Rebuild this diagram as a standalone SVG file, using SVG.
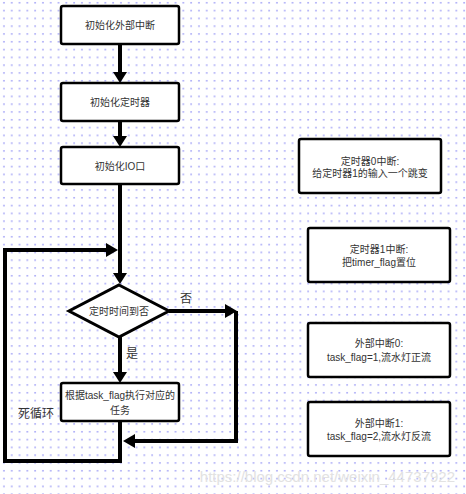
<svg xmlns="http://www.w3.org/2000/svg" width="466" height="494" viewBox="0 0 466 494">
<defs>
<pattern id="grid" x="0" y="0" width="7.8" height="7.8" patternUnits="userSpaceOnUse">
<rect x="3.2" y="2" width="1.5" height="1.5" fill="#9a9af5"/>
</pattern>
<style>
.box{fill:#fff;stroke:#000;stroke-width:2.5}
.t{font-family:"Liberation Sans","Noto Sans CJK SC",sans-serif;font-size:10px;fill:#333;text-anchor:middle}
.lbl{font-family:"Liberation Sans","Noto Sans CJK SC",sans-serif;font-size:12px;fill:#333;text-anchor:middle}
.ln{fill:none;stroke:#000;stroke-width:4}
.ah{fill:#000}
</style>
</defs>
<rect width="466" height="494" fill="#fff"/>
<rect width="466" height="494" fill="url(#grid)"/>
<g id="connectors">
<path class="ln" d="M120 44V73"/>
<polygon class="ah" points="113,72 127,72 120,83"/>
<path class="ln" d="M120 121V137"/>
<polygon class="ah" points="113,136 127,136 120,147"/>
<path class="ln" d="M120 184V274"/>
<polygon class="ah" points="113,273 127,273 120,284"/>
<path class="ln" d="M120 421V461H5V250H107"/>
<polygon class="ah" points="106,243 106,257 118,250"/>
<path class="ln" d="M120 337V373"/>
<polygon class="ah" points="113,372 127,372 120,383"/>
<path class="ln" d="M169 311H226"/>
<polygon class="ah" points="225,304 225,318 237,311"/>
<path class="ln" d="M236 311V441H134"/>
<polygon class="ah" points="135,434 135,448 123,441"/>
<text class="lbl" x="186" y="303">否</text>
<text class="lbl" x="132" y="358">是</text>
</g>
<g id="n1">
<rect class="box" x="61" y="6" width="118" height="38" rx="2"/>
<text class="t" x="120" y="28.5">初始化外部中断</text>
</g>
<g id="n2">
<rect class="box" x="61" y="83" width="118" height="38" rx="2"/>
<text class="t" x="120" y="105.5">初始化定时器</text>
</g>
<g id="n3">
<rect class="box" x="61" y="147" width="118" height="37" rx="2"/>
<text class="t" x="120" y="169.5">初始化IO口</text>
</g>
<g id="n4">
<polygon points="119,285 169,311 119,337 69,311" fill="#fff" stroke="#000" stroke-width="3"/>
<text class="t" x="119" y="314.5">定时时间到否</text>
</g>
<g id="n5">
<rect class="box" x="61" y="383" width="118" height="38" rx="2"/>
<text class="t" x="120" y="398.5">根据task_flag执行对应的</text>
<text class="t" x="120" y="413.5">任务</text>
</g>
<g id="loop-label">
<text class="lbl" x="36" y="418">死循环</text>
</g>
<g id="r1">
<rect class="box" x="299" y="139" width="142" height="54" rx="2"/>
<text class="t" x="370" y="164.5">定时器0中断:</text>
<text class="t" x="370" y="176.5">给定时器1的输入一个跳变</text>
</g>
<g id="r2">
<rect class="box" x="308" y="228" width="142" height="54" rx="2"/>
<text class="t" x="379" y="252.5">定时器1中断:</text>
<text class="t" x="379" y="265.5">把timer_flag置位</text>
</g>
<g id="r3">
<rect class="box" x="308" y="323" width="142" height="54" rx="2"/>
<text class="t" x="379" y="346.5">外部中断0:</text>
<text class="t" x="379" y="360.5">task_flag=1,流水灯正流</text>
</g>
<g id="r4">
<rect class="box" x="308" y="402" width="142" height="54" rx="2"/>
<text class="t" x="379" y="426.5">外部中断1:</text>
<text class="t" x="379" y="439.5">task_flag=2,流水灯反流</text>
</g>
<text x="455" y="482" font-family="Liberation Sans,sans-serif" font-size="15" fill="#e2e2e2" text-anchor="end">https://blog.csdn.net/weixin_44737922</text>
</svg>
